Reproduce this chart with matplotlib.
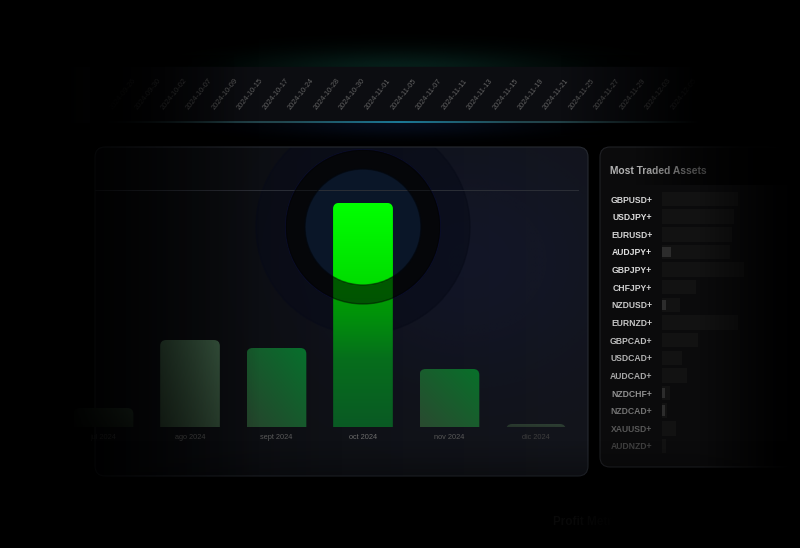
"""Trading dashboard mock: monthly profit bars + most traded assets panel."""

import numpy as np
import matplotlib.pyplot as plt
from matplotlib.colors import to_rgb
from matplotlib.patches import FancyBboxPatch, Circle, Wedge, Rectangle

plt.rcParams["font.family"] = ["Liberation Sans", "DejaVu Sans"]

# --- data -------------------------------------------------------------------
months = ["jul 2024", "ago 2024", "sept 2024", "oct 2024", "nov 2024", "dic 2024"]
profit = [190, 870, 790, 2240, 580, 30]

trade_dates = [
    "2024-09-26", "2024-09-30", "2024-10-02", "2024-10-07", "2024-10-09",
    "2024-10-15", "2024-10-17", "2024-10-24", "2024-10-28", "2024-10-30",
    "2024-11-01", "2024-11-05", "2024-11-07", "2024-11-11", "2024-11-13",
    "2024-11-15", "2024-11-19", "2024-11-21", "2024-11-25", "2024-11-27",
    "2024-11-29", "2024-12-03", "2024-12-05",
]

assets = ["GBPUSD+", "USDJPY+", "EURUSD+", "AUDJPY+", "GBPJPY+", "CHFJPY+",
          "NZDUSD+", "EURNZD+", "GBPCAD+", "USDCAD+", "AUDCAD+", "NZDCHF+",
          "NZDCAD+", "XAUUSD+", "AUDNZD+"]
asset_trades = [76, 72, 70, 68, 82, 34, 18, 76, 36, 20, 25, 8, 5, 14, 4]
asset_wins = [0, 0, 0, 9, 0, 0, 4, 0, 0, 0, 0, 3, 3, 0, 0]

W, H = 800, 548


def rgb(c):
    return np.array(to_rgb(c))


def paint(ax, rgba, x0, x1, y0, y1, z, clip=None):
    # canvas axes have y pointing down, so y0 is the top edge
    im = ax.imshow(rgba, extent=(x0, x1, y1, y0), origin="upper", aspect="auto",
                   interpolation="bilinear", zorder=z)
    if clip is not None:
        im.set_clip_path(clip)
    return im


def glow(ax, cx, cy, rx, ry, color, peak, box, z, clip=None):
    x0, x1, y0, y1 = box
    X, Y = np.meshgrid(np.linspace(x0, x1, 240), np.linspace(y0, y1, 160))
    d2 = ((X - cx) / rx) ** 2 + ((Y - cy) / ry) ** 2
    img = np.zeros(X.shape + (4,))
    img[..., :3] = rgb(color)
    img[..., 3] = peak * np.exp(-3 * d2)
    return paint(ax, img, x0, x1, y0, y1, z, clip)


def fade(ax, box, along, pos, alpha, z, color="black"):
    x0, x1, y0, y1 = box
    X, Y = np.meshgrid(np.linspace(x0, x1, 300), np.linspace(y0, y1, 300))
    img = np.zeros(X.shape + (4,))
    img[..., :3] = rgb(color)
    img[..., 3] = np.interp(X if along == "x" else Y, pos, alpha)
    return paint(ax, img, x0, x1, y0, y1, z)


def hramp(n, xs, cols):
    t = np.linspace(0, 1, n)
    c = np.array([to_rgb(k) for k in cols])
    return np.stack([np.interp(t, xs, c[:, i]) for i in range(3)], axis=-1)


fig = plt.figure(figsize=(8, 5.48), dpi=100, facecolor="black")

# background canvas in pixel units
bg = fig.add_axes([0, 0, 1, 1])
bg.set_xlim(0, W)
bg.set_ylim(H, 0)
bg.set_autoscale_on(False)
bg.axis("off")
bg.set_facecolor("black")

# bar chart axes: bottom at y=427 px, top at y=190 px
ax = fig.add_axes([60 / W, (H - 427) / H, 520 / W, 237 / H])
ax.set_xlim(-0.503, 5.509)
ax.set_ylim(0, 2370)
ax.set_autoscale_on(False)
ax.set_facecolor("none")
for s in ax.spines.values():
    s.set_visible(False)
ax.set_yticks([])
ax.set_xticks(range(len(months)))
ax.set_xticklabels(months, fontsize=5.3)
ax.tick_params(axis="x", length=0, pad=5)
for lab, c in zip(ax.get_xticklabels(),
                  ["#3a3a3a", "#4a4a4a", "#5a5a5a", "#6c6c6c", "#585858", "#3e3e3e"]):
    lab.set_color(c)

bars = ax.bar(range(len(months)), profit, width=0.69, color="none")

top_i = int(np.argmax(profit))
px_x = ax.transData.transform((1, 0))[0] - ax.transData.transform((0, 0))[0]
px_y = ax.transData.transform((0, 1))[1] - ax.transData.transform((0, 0))[1]
cx = ax.transData.transform((top_i, 0))[0]
cy = 227.0
R_IN, R_RING, R_HALO = 58, 77, 107

# --- top glow and date strip --------------------------------------------------
glow(bg, 400, 70, 260, 34, "#0c3a31", 0.55, (80, 720, 0, 67), 1)
bg.add_patch(Rectangle((60, 67), 700, 55, color="#0c0d11", zorder=2))
line = np.zeros((2, 400, 4))
line[..., :3] = hramp(400, [0, 0.3, 0.5, 0.7, 1],
                      ["#1d2a2c", "#22464e", "#1b7896", "#22464e", "#1d2a2c"])
line[..., 3] = 1
paint(bg, line, 100, 700, 121.3, 122.7, 3)
glow(bg, 400, 124, 230, 22, "#0a1836", 0.5, (100, 700, 122.7, 147), 2)

# --- main panel -------------------------------------------------------------
panel = FancyBboxPatch((95, 147), 493, 329, boxstyle="round,pad=0,rounding_size=10",
                       facecolor="none", edgecolor="#262a31", lw=0.8, zorder=7)
bg.add_patch(panel)
face = np.ones((2, 400, 4))
face[..., :3] = hramp(400, [0, 0.5, 1], ["#08090b", "#0f1116", "#13151b"])
paint(bg, face, 95, 588, 147, 476, 3, clip=panel)
glow(bg, 470, 260, 260, 220, "#18205a", 0.22, (95, 588, 147, 476), 4, clip=panel)

halo = Circle((cx, cy), R_HALO, color="#080b18", alpha=0.6, zorder=5)
bg.add_patch(halo)
halo.set_clip_path(panel)
bg.add_patch(Circle((cx, cy), R_RING, color="#0a0c12", zorder=5))
bg.add_patch(Circle((cx, cy), R_RING + 0.5, facecolor="none", edgecolor="#12186a",
                    lw=0.6, alpha=0.45, zorder=5))
bg.add_patch(Circle((cx, cy), R_IN, color="#0a1628", zorder=5))
bg.plot([95, 578], [190, 190], color="#2b2e36", lw=0.7, zorder=6)

# --- right panel --------------------------------------------------------------
side = FancyBboxPatch((600, 147), 260, 320, boxstyle="round,pad=0,rounding_size=10",
                      facecolor="#0b0b0c", edgecolor="#202125", lw=0.8, zorder=3)
bg.add_patch(side)
bg.text(610, 171, "Most Traded Assets", fontsize=7.4, fontweight="bold",
        color="#b4b4b4", va="center", ha="left", zorder=7)

# --- bars -----------------------------------------------------------------------
bar_cols = {
    0: ("#101610", "#1e2c20"),
    1: ("#223224", "#3c5c44"),
    2: ("#26442c", "#07702c"),
    4: ("#2a4a30", "#08702a"),
    5: ("#26342a", "#2e4034"),
}
r = 6 / px_x
asp = px_x / px_y
ext = 30 / px_y
n = 120
for i, b in enumerate(bars):
    x0, w, v = b.get_x(), b.get_width(), b.get_height()
    clip = FancyBboxPatch((x0, -ext), w, v + ext,
                          boxstyle=f"round,pad=0,rounding_size={r}",
                          mutation_aspect=asp, transform=ax.transData)
    if i == top_i:
        img = np.ones((n, n, 4))
        img[..., :3] = hramp(n, [0, 0.3, 0.5, 0.62, 1],
                             ["#0a5a24", "#066e1c", "#00920a", "#00a000", "#00a800"])[:, None, :]
        ax.imshow(img, extent=(x0, x0 + w, 0, v), origin="lower", aspect="auto",
                  interpolation="bilinear", zorder=2).set_clip_path(clip)
        # bright part inside the inner circle
        xs = x0 + (np.arange(n) + 0.5) / n * w
        ys = (np.arange(n) + 0.5) / n * v
        X, Y = np.meshgrid(xs, ys)
        d = ax.transData.transform(np.column_stack([X.ravel(), Y.ravel()]))
        dist = np.hypot(d[:, 0] - cx, (H - d[:, 1]) - cy).reshape(X.shape)
        hi = np.ones((n, n, 4))
        hi[..., :3] = hramp(n, [0, 0.55, 1], ["#00c800", "#00d400", "#00ff00"])[:, None, :]
        hi[..., 3] = np.clip(R_IN - dist + 0.5, 0, 1)
        ax.imshow(hi, extent=(x0, x0 + w, 0, v), origin="lower", aspect="auto",
                  interpolation="bilinear", zorder=3).set_clip_path(clip)
    else:
        lo, hi_c = bar_cols[i]
        u = np.linspace(0, 1, 64)
        t = (u[None, :] + u[:, None]) / 2
        img = np.ones((64, 64, 4))
        img[..., :3] = rgb(lo) + (rgb(hi_c) - rgb(lo)) * t[..., None]
        ax.imshow(img, extent=(x0, x0 + w, 0, v), origin="lower", aspect="auto",
                  interpolation="bilinear", zorder=2).set_clip_path(clip)

# --- date strip labels ----------------------------------------------------------
axd = fig.add_axes([100 / W, (H - 122) / H, 600 / W, 55 / H])
axd.set_xlim(-0.902, 22.63)
axd.set_ylim(0, 1)
axd.axis("off")
for i, d in enumerate(trade_dates):
    axd.text(i, 0.5, d, rotation=52, fontsize=5.3, color="#626262",
             ha="center", va="center")

# --- most traded assets ------------------------------------------------------------
ax2 = fig.add_axes([662 / W, (H - 454.8) / H, 138 / W, 264.6 / H])
ax2.set_facecolor("none")
rows = np.arange(len(assets))
ax2.barh(rows, asset_trades, height=0.82, color="#121212")
ax2.barh(rows, asset_wins, height=0.6, color="#2c2c2c")
ax2.set_xlim(0, 138)
ax2.set_ylim(len(assets) - 0.5, -0.5)
ax2.set_xticks([])
ax2.set_yticks(rows)
ax2.set_yticklabels(assets, fontsize=6.2, fontweight="bold")
ax2.tick_params(axis="y", length=0, pad=7)
for s in ax2.spines.values():
    s.set_visible(False)
label_cols = ["#d4d4d4", "#dcdcdc", "#d4d4d4", "#e0e0e0", "#d8d8d8", "#d0d0d0",
              "#c8c8c8", "#c6c6c6", "#bebebe", "#b2b2b2", "#a8a8a8", "#909090",
              "#727272", "#585858", "#404040"]
for lab, c in zip(ax2.get_yticklabels(), label_cols):
    lab.set_color(c)

# --- overlays: ring shadow and vignettes --------------------------------------
ov = fig.add_axes([0, 0, 1, 1])
ov.set_xlim(0, W)
ov.set_ylim(H, 0)
ov.set_autoscale_on(False)
ov.axis("off")
ov.set_facecolor("none")
ov.add_patch(Wedge((cx, cy), R_RING, 0, 360, width=R_RING - R_IN,
                   color="black", alpha=0.45, zorder=2))
ov.text(553, 522, "Profit Metrics", fontsize=8.5, fontweight="bold",
        color="#262626", va="center", ha="left", zorder=3)
fade(ov, (0, 300, 0, H), "x", [0, 70, 260, 300], [1, 0.95, 0, 0], 3)
fade(ov, (90, 260, 55, 125), "x", [90, 110, 235, 260], [1, 0.9, 0, 0], 3)
fade(ov, (520, 800, 55, 135), "x", [520, 560, 700, 740], [0, 0, 1, 1], 3)
fade(ov, (598, 800, 140, 185), "x", [598, 635, 690, 740, 800], [0, 0, 0.55, 0.9, 1], 3)
fade(ov, (598, 800, 185, 500), "x", [598, 700, 770, 800], [0, 0, 0.8, 1], 3)
fade(ov, (540, 640, 505, 540), "x", [540, 575, 620, 640], [0.45, 0.5, 1, 1], 4)
fade(ov, (0, W, 440, H), "y", [440, 455, 500, 548], [0, 0.1, 0.5, 0.6], 4)

fig.savefig("out.png", dpi=100, facecolor="black")
